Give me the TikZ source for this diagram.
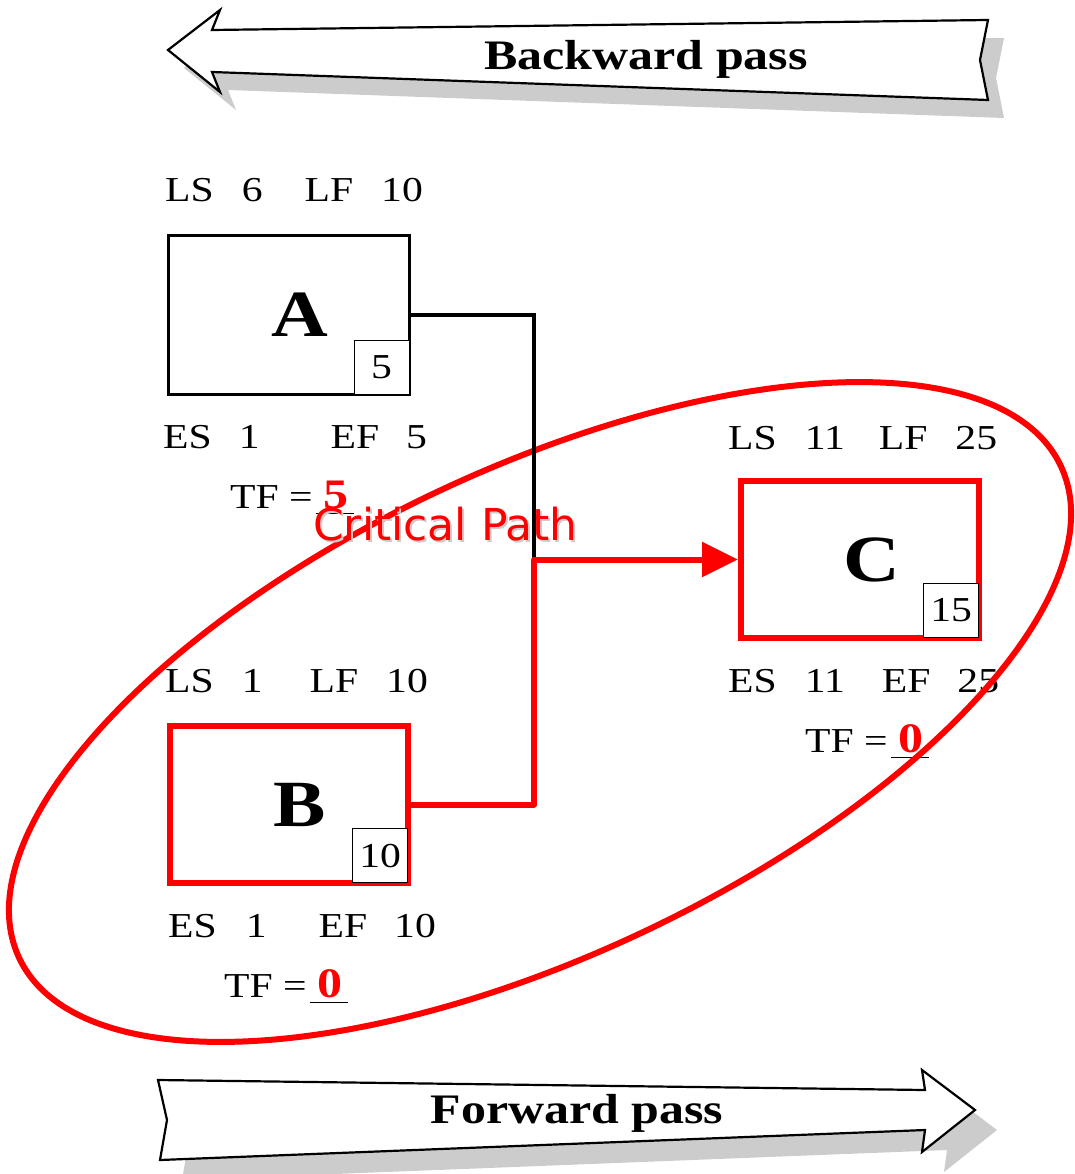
\documentclass[tikz,border=0pt]{standalone}
\usepackage{fontspec}
\setmainfont{Liberation Serif}[FakeStretch=1.19]
\newfontfamily\pathfont{DejaVu Sans}
\usetikzlibrary{arrows.meta,positioning,shapes.geometric}
\definecolor{cpmred}{HTML}{FF0000}
\definecolor{cpmshade}{HTML}{CCCCCC}
\definecolor{cpmink}{HTML}{000000}
\tikzset{
  act/.style={draw=cpmink, line width=3pt, fill=white, minimum width=241pt,
    minimum height=159pt, inner sep=0pt, font=\fontsize{66}{66}\selectfont\bfseries},
  critact/.style={act, draw=cpmred, line width=6pt, minimum width=238pt, minimum height=157pt},
  dur/.style={draw=cpmink, line width=0.8pt, fill=white, minimum width=55pt,
    minimum height=54pt, inner sep=0pt, font=\fontsize{35}{35}\selectfont},
  lbl/.style={anchor=base west, inner sep=0pt, font=\fontsize{35}{35}\selectfont},
  link/.style={line width=3.5pt, cpmink},
  critlink/.style={line width=6pt, cpmred, line join=round,
    -{Triangle[length=36pt, width=34pt]}},
  critloop/.style={line width=6pt, cpmred},
  passbody/.style={draw=cpmink, line width=2.2pt, fill=white, line join=miter},
  passshade/.style={fill=cpmshade},
  passtext/.style={anchor=base, inner sep=0pt, font=\fontsize{42}{42}\selectfont\bfseries},
}
\newcommand{\tfnum}[1]{\hspace{3pt}\rlap{\rule[-6pt]{38pt}{1.3pt}}\hspace{8pt}%
  \textcolor{cpmred}{\fontsize{42}{42}\selectfont\bfseries #1}}

\begin{document}
\begin{tikzpicture}[x=1pt, y=-1pt]
\useasboundingbox (0,0) rectangle (1075,1174);

% ---- pass arrows -----------------------------------------------------
\fill[passshade, shift={(16,18)}] (168,50) -- (220,10) -- (212,30) -- (988,20)
  -- (980,60) -- (988,100) -- (212,72) -- (220,92) -- cycle;
\draw[passbody] (168,50) -- (220,10) -- (212,30) -- (988,20)
  -- (980,60) -- (988,100) -- (212,72) -- (220,92) -- cycle;
\node[passtext] (backward) at (646,70) {Backward pass};

\fill[passshade, shift={(22,20)}] (158,1080) -- (925,1090) -- (922,1070) -- (975,1110)
  -- (922,1152) -- (925,1130) -- (160,1160) -- (167,1120) -- cycle;
\draw[passbody] (158,1080) -- (925,1090) -- (922,1070) -- (975,1110)
  -- (922,1152) -- (925,1130) -- (160,1160) -- (167,1120) -- cycle;
\node[passtext] (forward) at (577,1123) {Forward pass};

% ---- activities ------------------------------------------------------
\node[act] (A) at (289,315) {\hspace{22pt}A};
\node[dur, anchor=south east, xshift=-1.5pt, yshift=1.5pt] (Adur) at (A.south east) {5};
\node[critact] (B) at (289,804.5) {\hspace{22pt}B};
\node[dur, anchor=south east, xshift=-3pt, yshift=3pt] (Bdur) at (B.south east) {10};
\node[critact] (C) at (860,559.5) {\hspace{24pt}C};
\node[dur, anchor=south east, xshift=-3pt, yshift=3pt] (Cdur) at (C.south east) {15};

% ---- times -----------------------------------------------------------
\node[lbl] (Atop) at (165,202) {LS\hspace{28pt}6\hspace{42pt}LF\hspace{28pt}10};
\node[lbl] (Abot) at (163,448) {ES\hspace{27pt}1\hspace{71pt}EF\hspace{27pt}5};
\node[lbl] (Atf) at (230,508) {TF =\tfnum{5}};

\node[lbl] (Btop) at (165,692) {LS\hspace{28pt}1\hspace{47pt}LF\hspace{28pt}10};
\node[lbl] (Bbot) at (168,937) {ES\hspace{29pt}1\hspace{52pt}EF\hspace{27pt}10};
\node[lbl] (Btf) at (224,997) {TF =\tfnum{0}};

\node[lbl] (Ctop) at (728,449) {LS\hspace{28pt}11\hspace{34pt}LF\hspace{28pt}25};
\node[lbl] (Cbot) at (728,692) {ES\hspace{28pt}11\hspace{37pt}EF\hspace{27pt}25};
\node[lbl] (Ctf) at (805,752) {TF =\tfnum{0}};

% ---- critical path ---------------------------------------------------
\draw[critloop, rotate around={25.3:(540,712)}] (540,712) ellipse [x radius=576pt, y radius=243pt];
\node[lbl, text=cpmshade, font=\pathfont\fontsize{44}{44}\selectfont] at (315,542) {Critical Path};
\node[lbl, text=cpmred, font=\pathfont\fontsize{44}{44}\selectfont] (crit) at (313,540) {Critical Path};

\coordinate (merge) at (534,559.5);
\draw[link] (A.east) -| (merge);
\draw[critlink] (B.east) -| (merge) -- (C.west);

\end{tikzpicture}
\end{document}
